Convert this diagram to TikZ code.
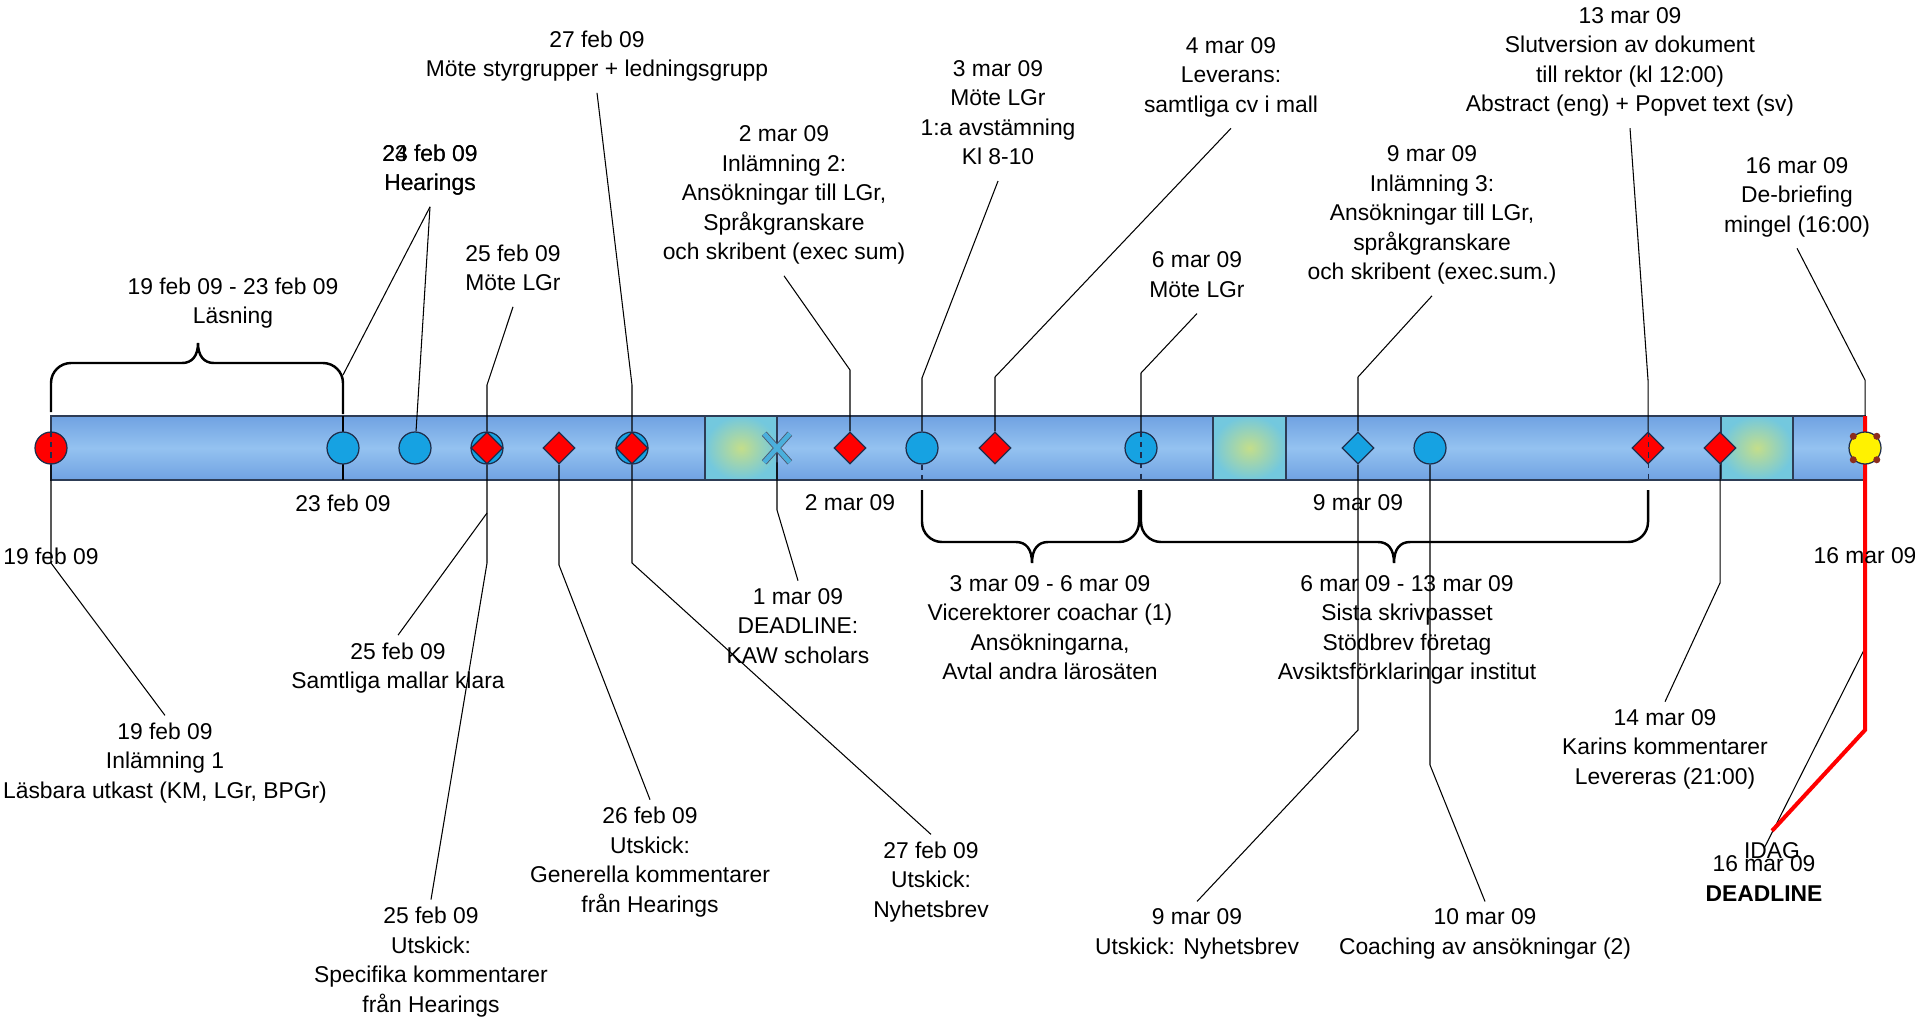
\documentclass[tikz,border=0pt]{standalone}
\usepackage{fontspec}
\setmainfont{Liberation Sans}
\usetikzlibrary{shapes.geometric,positioning,calc,backgrounds}
\definecolor{barmid}{RGB}{148,194,240}
\definecolor{baredge}{RGB}{112,162,226}
\definecolor{barline}{RGB}{45,60,85}
\definecolor{sqin}{RGB}{196,222,138}
\definecolor{sqout}{RGB}{115,200,222}
\definecolor{evblue}{RGB}{22,162,226}
\definecolor{evedge}{RGB}{30,45,75}
\definecolor{xblue}{RGB}{75,175,220}
\definecolor{sundot}{RGB}{140,45,30}
\newcommand{\lblfont}{\fontsize{13}{16.8}\selectfont}
\tikzstyle{lbl}=[align=center, inner sep=4pt, font=\lblfont, execute at begin node=\strut, execute at end node=\strut]
\tikzstyle{datum}=[inner sep=1pt, font=\lblfont]
\tikzstyle{callout}=[line width=0.6pt]
\tikzstyle{brace}=[line width=1.4pt]
\tikzstyle{evcirc}=[circle, draw=evedge, fill=evblue, minimum size=0.64cm, inner sep=0pt, line width=0.7pt]
\tikzstyle{evdia}=[diamond, draw=evedge, fill=red, minimum size=0.64cm, inner sep=0pt, line width=0.7pt]
\tikzstyle{idagline}=[red, line width=2.3pt]
\begin{document}
\begin{tikzpicture}[x=0.02cm,y=-0.02cm]
\useasboundingbox (0,0) rectangle (1915,1018);
\coordinate (barN) at (0,416);
\coordinate (barS) at (0,480);
\node (m19) [evcirc, fill=red] at (51,448) {};
\node (m23) [evcirc] at (343,448) {};
\node (m24) [evcirc] at (415,448) {};
\node (m25c) [evcirc] at (487,448) {};
\node (m25) [evdia] at (487,448) {};
\node (m26) [evdia] at (559,448) {};
\node (m27c) [evcirc] at (632,448) {};
\node (m27) [evdia] at (632,448) {};
\node (m1) [minimum width=0.5cm, minimum height=0.56cm, inner sep=0pt] at (777,448) {};
\node (m2) [evdia] at (850,448) {};
\node (m3) [evcirc] at (922,448) {};
\node (m4) [evdia] at (995,448) {};
\node (m6) [evcirc] at (1141,448) {};
\node (m9) [evdia, fill=evblue] at (1358,448) {};
\node (m10) [evcirc] at (1430,448) {};
\node (m13) [evdia] at (1648,448) {};
\node (m14) [evdia] at (1720,448) {};
\node (m16) [evcirc, fill=yellow] at (1865,448) {};
\node (l1) [lbl] at (233,305) {19 feb 09 - 23 feb 09\\Läsning};
\node (l2a) [lbl] at (430,172) {23 feb 09\\Hearings};
\node (l2b) [lbl] at (430,172) {24 feb 09\\Hearings};
\node (l3) [lbl] at (513,272) {25 feb 09\\Möte LGr};
\node (l4) [lbl] at (597,58) {27 feb 09\\Möte styrgrupper + ledningsgrupp};
\node (l5) [lbl] at (784,197) {2 mar 09\\Inlämning 2:\\Ansökningar till LGr,\\Språkgranskare\\och skribent (exec sum)};
\node (l6) [lbl] at (998,117) {3 mar 09\\Möte LGr\\1:a avstämning\\Kl 8-10};
\node (l7) [lbl] at (1231,79) {4 mar 09\\Leverans:\\samtliga cv i mall};
\node (l8) [lbl] at (1197,279) {6 mar 09\\Möte LGr};
\node (l9) [lbl] at (1432,217) {9 mar 09\\Inlämning 3:\\Ansökningar till LGr,\\språkgranskare\\och skribent (exec.sum.)};
\node (l10) [lbl] at (1630,64) {13 mar 09\\Slutversion av dokument\\till rektor (kl 12:00)\\Abstract (eng) + Popvet text (sv)};
\node (l11) [lbl] at (1797,199) {16 mar 09\\De-briefing\\mingel (16:00)};
\node (b1) [lbl] at (165,765) {19 feb 09\\Inlämning 1\\Läsbara utkast (KM, LGr, BPGr)};
\node (b2) [lbl] at (398,670) {25 feb 09\\Samtliga mallar klara};
\node (b3) [lbl] at (431,964) {25 feb 09\\Utskick:\\Specifika kommentarer\\från Hearings};
\node (b4) [lbl] at (650,864) {26 feb 09\\Utskick:\\Generella kommentarer\\från Hearings};
\node (b5) [lbl] at (798,630) {1 mar 09\\DEADLINE:\\KAW scholars};
\node (b6) [lbl] at (931,884) {27 feb 09\\Utskick:\\Nyhetsbrev};
\node (b7) [lbl] at (1050,632) {3 mar 09 - 6 mar 09\\Vicerektorer coachar (1)\\Ansökningarna,\\Avtal andra lärosäten};
\node (b8) [lbl] at (1407,632) {6 mar 09 - 13 mar 09\\Sista skrivpasset\\Stödbrev företag\\Avsiktsförklaringar institut};
\node (b9) [lbl] at (1197,936) {9 mar 09\\Utskick: Nyhetsbrev};
\node (b10) [lbl] at (1485,936) {10 mar 09\\Coaching av ansökningar (2)};
\node (b11) [lbl] at (1665,751) {14 mar 09\\Karins kommentarer\\Levereras (21:00)};
\node (idag) [lbl] at (1772,853) {IDAG};
\node (dl) [lbl] at (1764,883) {16 mar 09\\\textbf{DEADLINE}};
\node (d23) [datum, below=0.56cm of m23] {23 feb 09};
\node (d2) [datum, below=0.56cm of m2] {2 mar 09};
\node (d9) [datum, below=0.56cm of m9] {9 mar 09};
\node (d19) [datum, below=1.62cm of m19] {19 feb 09};
\node (d16) [datum, below=1.62cm of m16] {16 mar 09};
\coordinate (brR) at (343,375);
\coordinate (k3) at (487,385);
\coordinate (k4) at (632,385);
\coordinate (k5) at (850,370);
\coordinate (k6) at (922,378);
\coordinate (k7) at (995,377);
\coordinate (k8) at (1141,373);
\coordinate (k9) at (1358,377);
\coordinate (k10) at (1648,380);
\coordinate (k11) at (1865,380);
\coordinate (j19) at (51,563);
\coordinate (j25) at (487,563);
\coordinate (j25a) at (487,513);
\coordinate (j26) at (559,565);
\coordinate (j1) at (777,510);
\coordinate (j27) at (632,563);
\coordinate (j9) at (1358,730);
\coordinate (j10) at (1430,765);
\coordinate (j14) at (1720,583);
\coordinate (j16) at (1865,730);
\coordinate (j16a) at (1865,648);
\begin{scope}[on background layer]
\shade[top color=baredge, bottom color=baredge, middle color=barmid] (51,416) rectangle (1865,480);
\draw[barline, line width=0.8pt] (51,416) rectangle (1865,480);
\shade[inner color=sqin, outer color=sqout] (705,416) rectangle (777,480);
\draw[barline, line width=0.8pt] (705,416) rectangle (777,480);
\shade[inner color=sqin, outer color=sqout] (1213,416) rectangle (1286,480);
\draw[barline, line width=0.8pt] (1213,416) rectangle (1286,480);
\shade[inner color=sqin, outer color=sqout] (1721,416) rectangle (1793,480);
\draw[barline, line width=0.8pt] (1721,416) rectangle (1793,480);
\draw[callout] (l2a.south) -- (brR);
\draw[callout] (l2b.south) -- (m24);
\draw[callout] (l3.south) -- (k3) -- (m25);
\draw[callout] (l4.south) -- (k4) -- (m27);
\draw[callout] (l5.south) -- (k5) -- (m2);
\draw[callout] (l6.south) -- (k6) -- (m3);
\draw[callout] (l7.south) -- (k7) -- (m4);
\draw[callout] (l8.south) -- (k8) -- (m6);
\draw[callout] (l9.south) -- (k9) -- (m9);
\draw[callout] (l10.south) -- (k10) -- (m13);
\draw[callout] (l11.south) -- (k11) -- (m16);
\draw[callout] (m23 |- barN) -- (m23 |- barS);
\draw[callout] (m19) -- (j19) -- (b1.north);
\draw[callout] (m25) -- (j25) -- (b3.north);
\draw[callout] (j25a) -- (b2.north);
\draw[callout] (m26) -- (j26) -- (b4.north);
\draw[callout] (m1) -- (j1) -- (b5.north);
\draw[callout] (m27) -- (j27) -- (b6.north);
\draw[callout] (m9) -- (j9) -- (b9.north);
\draw[callout] (m10) -- (j10) -- (b10.north);
\draw[callout] (m14) -- (j14) -- (b11.north);
\draw[callout] (j16a) -- (dl.north);
\draw[idagline] (m16 |- barN) -- (j16) -- (idag.north);
\end{scope}
\draw[brace] (51,412) [rounded corners=0.4cm] -- (51,363) -- (150,363) [sharp corners] -- (182,363) .. controls (192,363) and (198,356) .. (198,343) .. controls (198,356) and (204,363) .. (214,363) -- (250,363) [rounded corners=0.4cm] -- (343,363) -- (343,414);
\draw[brace] (922,490) [rounded corners=0.4cm] -- (922,542) -- (990,542) [sharp corners] -- (1016,542) .. controls (1026,542) and (1032,549) .. (1032,563) .. controls (1032,549) and (1038,542) .. (1048,542) -- (1080,542) [rounded corners=0.4cm] -- (1139,542) -- (1139,490);
\draw[brace] (1141,490) [rounded corners=0.4cm] -- (1141,542) -- (1340,542) [sharp corners] -- (1378,542) .. controls (1388,542) and (1394,549) .. (1394,563) .. controls (1394,549) and (1400,542) .. (1410,542) -- (1450,542) [rounded corners=0.4cm] -- (1648,542) -- (1648,490);
\draw[evedge!80, line width=0.5pt, double=xblue, double distance=2.6pt] (m1.north west) -- (m1.south east) (m1.north east) -- (m1.south west);
\draw[dashed, evedge, line width=0.6pt] (m19.north) -- (m19.south);
\draw[dashed, evedge, line width=0.6pt] (m3.south) -- (m3 |- barS);
\draw[dashed, evedge, line width=0.6pt] (m6.north) -- (m6 |- barS);
\draw[dashed, evedge, line width=0.6pt] (m13.north) -- (m13 |- barS);
\fill[sundot] (m16.45) circle (2pt) (m16.135) circle (2pt) (m16.225) circle (2pt) (m16.315) circle (2pt);
\end{tikzpicture}
\end{document}
